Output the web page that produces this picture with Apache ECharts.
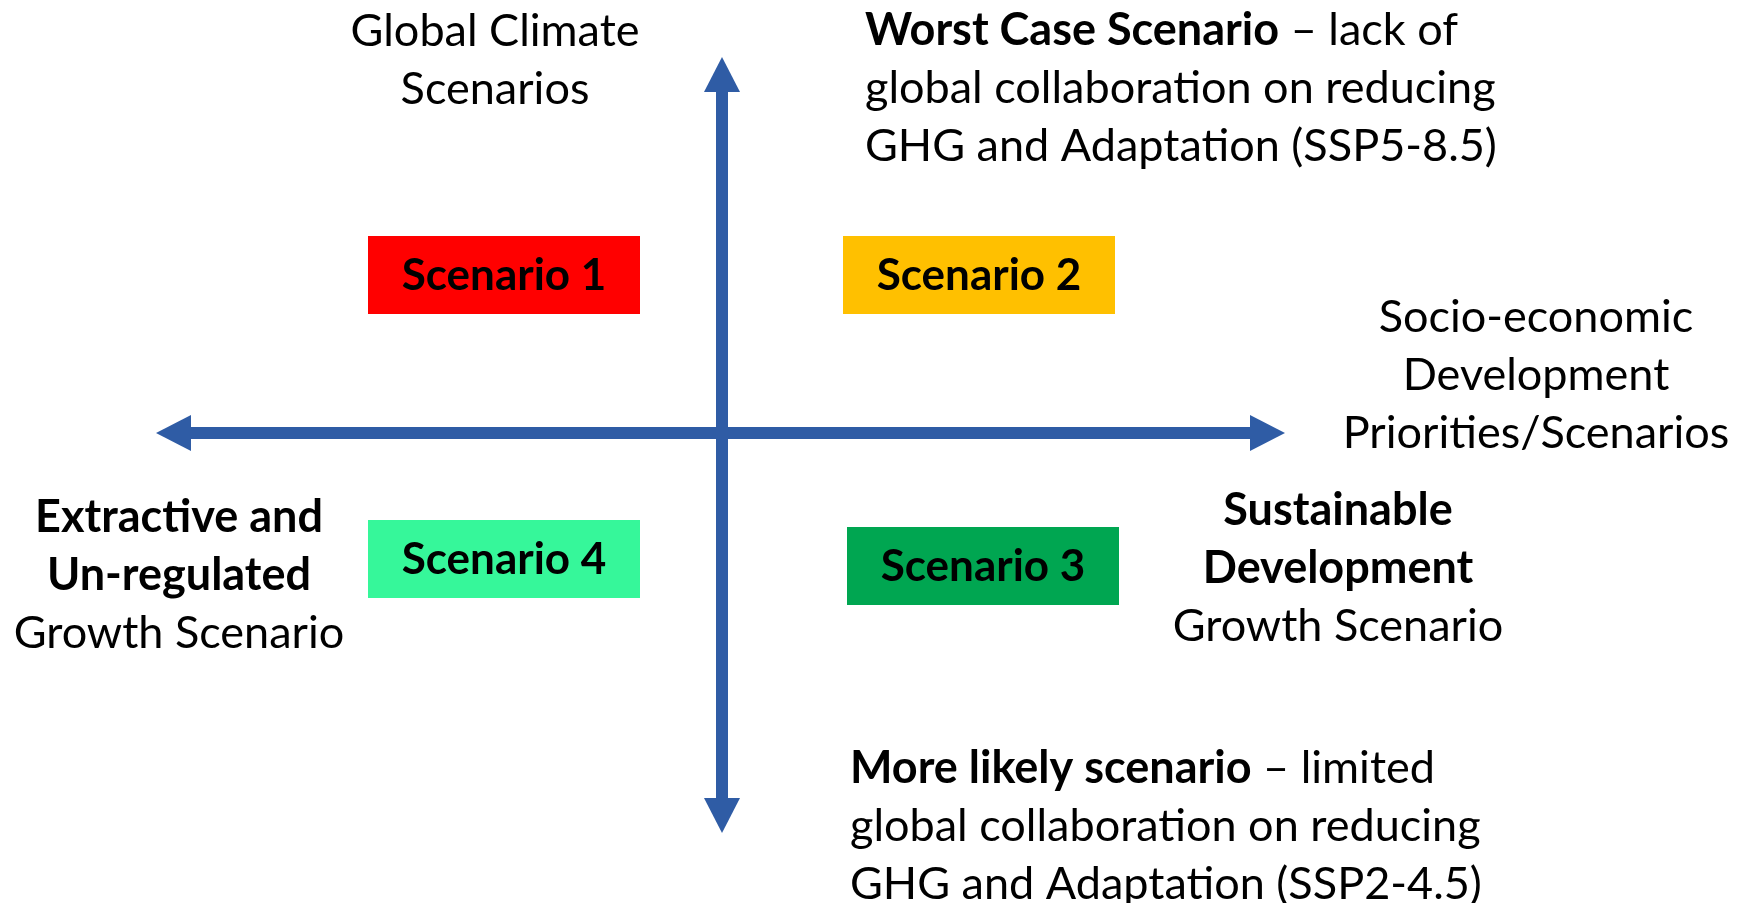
<!DOCTYPE html>
<html>
<head>
<meta charset="utf-8">
<script src="https://cdn.jsdelivr.net/npm/echarts@6/dist/echarts.min.js"></script>
<style>
  html, body { margin: 0; padding: 0; background: #fff; }
  #chart { width: 1742px; height: 903px; }
</style>
</head>
<body>
<div id="chart"></div>
<script>
// diagram units are pixels, origin where the two axes cross, y pointing up
const axisArrows = [
  [-566, 0, 563, 0],   // socio-economic development axis
  [0, -400, 0, 376]    // global climate axis
];

const scenarioNames = ["Scenario 1", "Scenario 2", "Scenario 3", "Scenario 4"];
const scenarioCenters = [[-218, 158], [257, 158], [261, -133], [-218, -126]];
const scenarioColors = ["#ff0000", "#ffc000", "#00a651", "#36f79a"];

const noteTexts = [
  "Global Climate\nScenarios",
  "{b|Worst Case Scenario} – lack of\nglobal collaboration on reducing\nGHG and Adaptation (SSP5-8.5)",
  "Socio-economic\nDevelopment\nPriorities/Scenarios",
  "{b|Extractive and}\n{b|Un-regulated}\nGrowth Scenario",
  "{b|Sustainable}\n{b|Development}\nGrowth Scenario",
  "{b|More likely scenario} – limited\nglobal collaboration on reducing\nGHG and Adaptation (SSP2-4.5)"
];
const noteAnchors = [[-227, 373], [143, 345], [814, 58], [-543, -142], [616, -135], [128, -393]];
const noteAligns = ["center", "left", "center", "center", "center", "left"];

const FONT = 'Lato, "Open Sans", sans-serif';
const AXIS_BLUE = "#2f5ca5";
const SHAFT = 12;
const HEAD_LEN = 35;
const HEAD_HALF = 18;
const BOX_W = 272;
const BOX_H = 78;
const NOTE_SIZE = 45;
const LINE_H = 58;

function renderArrow(params, api) {
  const a = api.coord([api.value(0), api.value(1)]);
  const b = api.coord([api.value(2), api.value(3)]);
  const len = Math.hypot(b[0] - a[0], b[1] - a[1]);
  const dx = (b[0] - a[0]) / len;
  const dy = (b[1] - a[1]) / len;
  const head = (tip, dir) => {
    const bx = tip[0] - dir * dx * HEAD_LEN;
    const by = tip[1] - dir * dy * HEAD_LEN;
    return [[tip[0], tip[1]], [bx - dy * HEAD_HALF, by + dx * HEAD_HALF], [bx + dy * HEAD_HALF, by - dx * HEAD_HALF]];
  };
  return {
    type: "group",
    children: [
      {
        type: "line",
        shape: {
          x1: a[0] + dx * (HEAD_LEN - 1), y1: a[1] + dy * (HEAD_LEN - 1),
          x2: b[0] - dx * (HEAD_LEN - 1), y2: b[1] - dy * (HEAD_LEN - 1)
        },
        style: { stroke: AXIS_BLUE, lineWidth: SHAFT, lineCap: "butt" }
      },
      { type: "polygon", shape: { points: head(b, 1) }, style: { fill: AXIS_BLUE } },
      { type: "polygon", shape: { points: head(a, -1) }, style: { fill: AXIS_BLUE } }
    ]
  };
}

function renderBox(params, api) {
  const c = api.coord([api.value(0), api.value(1)]);
  const i = api.value(2);
  return {
    type: "group",
    children: [
      {
        type: "rect",
        shape: { x: c[0] - BOX_W / 2, y: c[1] - BOX_H / 2, width: BOX_W, height: BOX_H },
        style: { fill: scenarioColors[i] }
      },
      {
        type: "text",
        x: c[0], y: c[1] + 1,
        style: {
          text: scenarioNames[i],
          fontFamily: FONT, fontSize: 44, fontWeight: "bold",
          fill: "#000", align: "center", verticalAlign: "middle"
        }
      }
    ]
  };
}

function renderNote(params, api) {
  const p = api.coord([api.value(0), api.value(1)]);
  const i = api.value(2);
  return {
    type: "text",
    x: p[0], y: p[1],
    style: {
      text: noteTexts[i],
      fontFamily: FONT, fontSize: NOTE_SIZE, lineHeight: LINE_H,
      fill: "#000", align: noteAligns[i], verticalAlign: "middle",
      rich: {
        b: { fontFamily: FONT, fontSize: NOTE_SIZE, lineHeight: LINE_H, fontWeight: "bold", fill: "#000" }
      }
    }
  };
}

const chart = echarts.init(document.getElementById("chart"), null, { renderer: "canvas" });
chart.setOption({
  animation: false,
  backgroundColor: "#fff",
  grid: { left: 0, right: 0, top: 0, bottom: 0 },
  xAxis: { type: "value", min: -722, max: 1020, show: false },
  yAxis: { type: "value", min: -470, max: 433, show: false },
  series: [
    {
      type: "custom", name: "axes", silent: true,
      encode: { x: [0, 2], y: [1, 3] },
      data: axisArrows,
      renderItem: renderArrow
    },
    {
      type: "custom", name: "scenarios", silent: true,
      encode: { x: 0, y: 1 },
      data: scenarioCenters.map((c, i) => [c[0], c[1], i]),
      renderItem: renderBox
    },
    {
      type: "custom", name: "notes", silent: true,
      encode: { x: 0, y: 1 },
      data: noteAnchors.map((p, i) => [p[0], p[1], i]),
      renderItem: renderNote
    }
  ]
});
</script>
</body>
</html>
